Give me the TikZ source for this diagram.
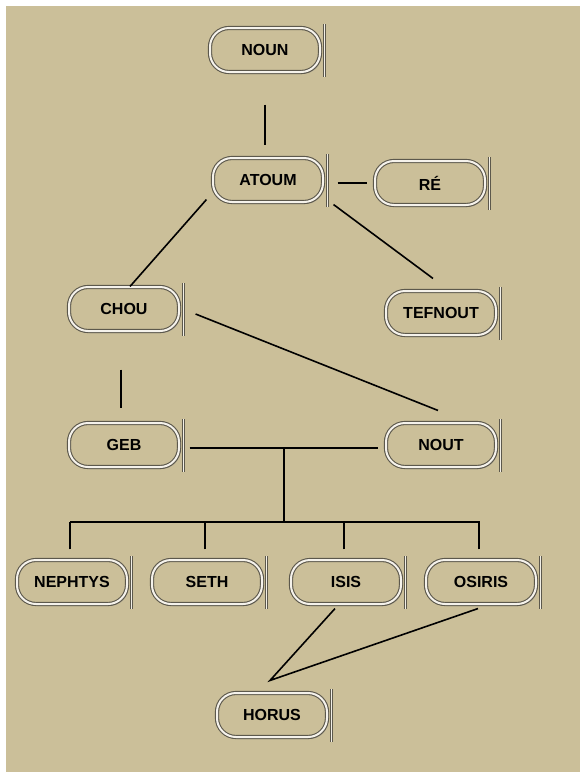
\documentclass[tikz,border=0pt]{standalone}
\usepackage{fontspec}
\setmainfont{Liberation Sans}
\usetikzlibrary{shadows}
\definecolor{papyrus}{RGB}{203,191,153}
\definecolor{rim}{RGB}{92,88,76}

\begin{document}
\begin{tikzpicture}[x=1pt,y=-1pt,
    cartouche/.style={draw=rim,double=white!80!papyrus,double distance=2pt,line width=1.1pt,
      fill=papyrus,rounded corners=19pt,minimum width=110pt,minimum height=44pt,
      font=\fontsize{16}{18}\selectfont\bfseries,
      drop shadow={shadow xshift=1.5pt,shadow yshift=-2pt,opacity=0.45}},
    bar/.style={draw=rim,double=white!75!papyrus,double distance=1pt,line width=1pt},
    link/.style={line width=1.6pt}]
    \useasboundingbox (0,0) rectangle (580,772);
    \fill[white] (0,0) rectangle (580,772);
    \fill[papyrus] (6,6) rectangle (580,772);
    % cartouches
    \node[cartouche] (noun) at (265,50) {NOUN};
    \node[cartouche] (atoum) at (268,180) {ATOUM};
    \node[cartouche] (re) at (430,183) {RÉ};
    \node[cartouche] (chou) at (124,309) {CHOU};
    \node[cartouche] (tefnout) at (441,313) {TEFNOUT};
    \node[cartouche] (geb) at (124,445) {GEB};
    \node[cartouche] (nout) at (441,445) {NOUT};
    \node[cartouche] (nephtys) at (72,582) {NEPHTYS};
    \node[cartouche] (seth) at (207,582) {SETH};
    \node[cartouche] (isis) at (346,582) {ISIS};
    \node[cartouche] (osiris) at (481,582) {OSIRIS};
    \node[cartouche] (horus) at (272,715) {HORUS};
    \foreach \n in {noun,atoum,re,chou,tefnout,geb,nout,nephtys,seth,isis,osiris,horus}
      \draw[bar] ([xshift=4pt,yshift=3pt]\n.north east) -- ([xshift=4pt,yshift=-4pt]\n.south east);
    % lineage
    \draw[link] ([yshift=-32pt]noun.south) -- ([yshift=12pt]noun.south |- atoum.north);
    \draw[link] ([xshift=14pt]atoum.east |- re.west) -- ([xshift=-7pt]re.west);
    \draw[link] ([xshift=-6pt,yshift=3pt]atoum.south west) -- ([xshift=6pt]chou.north);
    \draw[link] ([xshift=10pt,yshift=-2pt]atoum.south east) -- ([xshift=-8pt,yshift=12pt]tefnout.north);
    \draw[link] ([xshift=16pt,yshift=-5pt]chou.east) -- ([xshift=-3pt,yshift=12pt]nout.north);
    \draw[link] ([xshift=-3pt,yshift=-38pt]chou.south) -- ([xshift=-3pt,yshift=14pt]geb.north);
    \draw[link] ([xshift=10pt,yshift=-3pt]geb.east) -- coordinate (union) ([xshift=-7pt,yshift=-3pt]nout.west);
    \coordinate (bus) at (0,522);
    \draw[link] (union) -- (union |- bus);
    \draw[link] ([xshift=-2pt]nephtys.north |- bus) -- ([xshift=-1pt]osiris.north |- bus);
    \foreach \c in {nephtys,seth,isis,osiris}
      \draw[link] ([xshift=-2pt,yshift=10pt]\c.north) -- ([xshift=-2pt]\c.north |- bus);
    \coordinate (join) at ([xshift=-2pt,yshift=12pt]horus.north);
    \draw[link] ([xshift=-11pt,yshift=-4pt]isis.south) -- (join) -- ([xshift=-3pt,yshift=-4pt]osiris.south);
\end{tikzpicture}
\end{document}
